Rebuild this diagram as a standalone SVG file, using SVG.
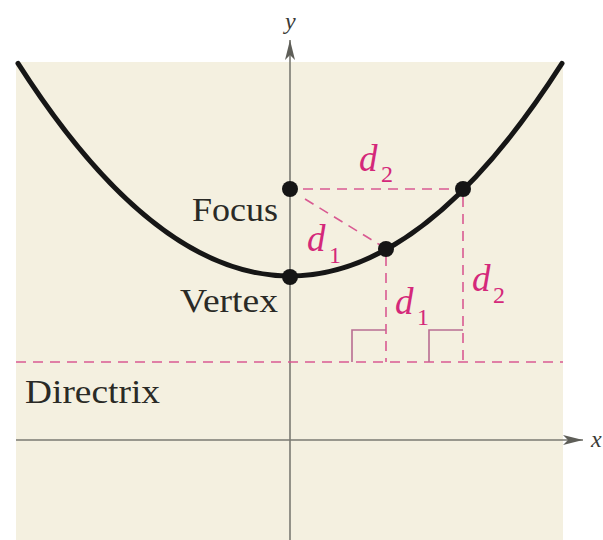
<svg xmlns="http://www.w3.org/2000/svg" width="603" height="540" viewBox="0 0 603 540">
<style>
.axis{stroke:#7a7a72;stroke-width:1.6;fill:none}
.dash{stroke:#d95a92;stroke-width:1.6;fill:none;stroke-dasharray:10 7}
.sq{stroke:#b86d92;stroke-width:1.6;fill:none}
.lbl{font-family:"Liberation Serif","Times New Roman",serif;font-size:34px;fill:#2a2a26}
.d{font-family:"Liberation Serif","Times New Roman",serif;font-style:italic;font-size:37px;fill:#d4287a}
.sub{font-family:"Liberation Serif","Times New Roman",serif;font-size:24px;fill:#d4287a}
.ax{font-family:"Liberation Serif","Times New Roman",serif;font-style:italic;font-size:24px;fill:#3a3a36}
.pt{fill:#151515}
</style>
<defs>
<marker id="arr" viewBox="0 0 20 10" refX="20" refY="5" markerWidth="20" markerHeight="10" markerUnits="userSpaceOnUse" orient="auto">
<path d="M0,0 L20,5 L0,10 L5,5 Z" fill="#5e5e58"/>
</marker>
</defs>
<rect x="0" y="0" width="603" height="540" fill="#ffffff"/>
<rect x="16" y="62" width="547" height="478" fill="#f4f0e0"/>
<g id="axes">
<line class="axis" x1="290" y1="540" x2="290" y2="40" marker-end="url(#arr)"/>
<line class="axis" x1="16" y1="440" x2="583" y2="440" marker-end="url(#arr)"/>
<text class="ax" x="285" y="29">y</text>
<text class="ax" x="591" y="447">x</text>
</g>
<g id="connectors">
<line class="dash" x1="16" y1="362" x2="563" y2="362"/>
<line class="dash" x1="303" y1="189" x2="463" y2="189"/>
<line class="dash" x1="305" y1="199" x2="380" y2="245"/>
<line class="dash" x1="386" y1="256" x2="386" y2="362"/>
<line class="dash" x1="463" y1="197" x2="463" y2="362"/>
<polyline class="sq" points="352,362 352,330 386,330"/>
<polyline class="sq" points="429,362 429,330 463,330"/>
</g>
<g id="parabola">
<path d="M18,63.4 Q290,488.6 562,63.4" fill="none" stroke="#161616" stroke-width="5" stroke-linecap="round"/>
</g>
<g id="focus">
<circle class="pt" cx="290" cy="189" r="8"/>
<text class="lbl" x="192" y="221" textLength="86" lengthAdjust="spacingAndGlyphs">Focus</text>
</g>
<g id="vertex">
<circle class="pt" cx="290" cy="277" r="8"/>
<text class="lbl" x="180" y="312" textLength="98" lengthAdjust="spacingAndGlyphs">Vertex</text>
</g>
<g id="point1">
<circle class="pt" cx="386" cy="249" r="8"/>
</g>
<g id="point2">
<circle class="pt" cx="463" cy="189" r="8"/>
</g>
<g id="directrix">
<text class="lbl" x="25" y="403" textLength="135" lengthAdjust="spacingAndGlyphs">Directrix</text>
</g>
<g id="labels">
<text class="d" x="359" y="171">d</text><text class="sub" x="381" y="182">2</text>
<text class="d" x="307" y="251">d</text><text class="sub" x="329" y="263">1</text>
<text class="d" x="395" y="314">d</text><text class="sub" x="417" y="325">1</text>
<text class="d" x="472" y="291">d</text><text class="sub" x="493" y="303">2</text>
</g>
</svg>
